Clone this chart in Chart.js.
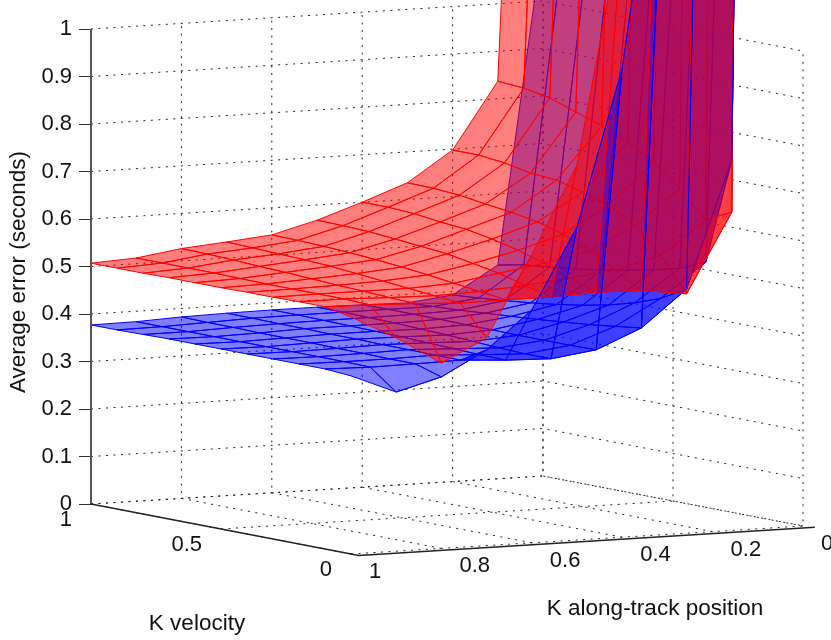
<!DOCTYPE html>
<html>
<head>
<meta charset="utf-8">
<title>Average error surfaces</title>
<script src="https://cdn.jsdelivr.net/npm/chart.js@4"></script>
<style>
  html, body { margin: 0; padding: 0; background: #fff; }
  canvas { display: block; }
</style>
</head>
<body>
<canvas id="errorChart" width="831" height="640"></canvas>
<script>
// grid of the two surfaces
const kPos = [1, 0.9, 0.8, 0.7, 0.6, 0.5, 0.4, 0.3, 0.2, 0.1, 0];
const kVel = [1, 0.9, 0.8, 0.7, 0.6, 0.5, 0.4, 0.3, 0.2, 0.1, 0];

// one row per kPos, one value per kVel
const redError = [
  [0.507, 0.507, 0.507, 0.508, 0.508, 0.508, 0.509, 0.509, 0.51, 0.51, 0.499],
  [0.512, 0.512, 0.512, 0.512, 0.511, 0.51, 0.51, 0.51, 0.51, 0.508, 0.449],
  [0.526, 0.525, 0.523, 0.52, 0.518, 0.515, 0.512, 0.51, 0.507, 0.505, 0.39],
  [0.534, 0.532, 0.53, 0.528, 0.525, 0.52, 0.515, 0.51, 0.505, 0.5, 0.437],
  [0.543, 0.542, 0.54, 0.537, 0.533, 0.528, 0.522, 0.515, 0.508, 0.501, 0.606],
  [0.568, 0.567, 0.565, 0.56, 0.555, 0.55, 0.54, 0.53, 0.515, 0.501, 0.79],
  [0.6, 0.6, 0.597, 0.59, 0.585, 0.575, 0.562, 0.545, 0.525, 0.505, 1.29],
  [0.635, 0.634, 0.63, 0.622, 0.615, 0.605, 0.59, 0.565, 0.535, 0.503, 2.2],
  [0.698, 0.698, 0.692, 0.681, 0.677, 0.662, 0.645, 0.614, 0.561, 0.49, 4],
  [0.837, 0.833, 0.823, 0.804, 0.785, 0.762, 0.73, 0.684, 0.629, 0.656, 8],
  [3, 3.2, 3.5, 4, 4.5, 5.5, 7, 9, 12, 16, 25]
];
const blueError = [
  [0.377, 0.377, 0.378, 0.379, 0.379, 0.379, 0.379, 0.379, 0.379, 0.379, 0.375],
  [0.378, 0.378, 0.378, 0.378, 0.378, 0.378, 0.378, 0.378, 0.378, 0.377, 0.335],
  [0.382, 0.381, 0.381, 0.38, 0.38, 0.38, 0.379, 0.379, 0.378, 0.378, 0.361],
  [0.384, 0.384, 0.383, 0.383, 0.382, 0.382, 0.381, 0.381, 0.38, 0.38, 0.412],
  [0.385, 0.385, 0.384, 0.383, 0.382, 0.381, 0.379, 0.377, 0.375, 0.374, 0.49],
  [0.385, 0.385, 0.384, 0.383, 0.381, 0.379, 0.376, 0.373, 0.371, 0.371, 0.659],
  [0.384, 0.385, 0.385, 0.385, 0.384, 0.384, 0.383, 0.383, 0.383, 0.384, 0.987],
  [0.382, 0.385, 0.388, 0.392, 0.396, 0.4, 0.405, 0.41, 0.417, 0.424, 1.64],
  [0.393, 0.397, 0.402, 0.408, 0.415, 0.424, 0.435, 0.45, 0.47, 0.5, 3.1],
  [0.45, 0.461, 0.467, 0.473, 0.482, 0.492, 0.503, 0.517, 0.54, 0.766, 5],
  [1.13, 1.22, 1.25, 1.35, 1.5, 1.7, 2, 2.6, 3.5, 8, 15]
];

// tick labels
const zTicks = [0, 0.1, 0.2, 0.3, 0.4, 0.5, 0.6, 0.7, 0.8, 0.9, 1];
const posTicks = [1, 0.8, 0.6, 0.4, 0.2, 0];
const velTicks = [1, 0.5, 0];
const zTitle = 'Average error (seconds)';
const posTitle = 'K along-track position';
const velTitle = 'K velocity';

const FONT = '"Liberation Sans", Arial, sans-serif';

// 3D view -> chart values. x scale is screen px right of the z axis,
// y scale is in z units with the floor shear added in
function project(pos, vel, z) {
  return {
    x: (1 - pos) * 452 + (1 - vel) * 260,
    y: z + (28 * (1 - pos) - 50 * (1 - vel)) / 475
  };
}

function pathSet(points, color, width, dash) {
  return {
    data: points,
    showLine: true,
    fill: false,
    borderColor: color,
    borderWidth: width,
    borderDash: dash || [],
    pointRadius: 0,
    tension: 0,
    clip: false
  };
}

function gridSets() {
  const dots = [2, 5.5];
  const color = '#222';
  const sets = [];
  zTicks.forEach(z => {
    sets.push(pathSet([project(1, 1, z), project(0, 1, z), project(0, 0, z)], color, 1, dots));
  });
  posTicks.forEach(p => {
    sets.push(pathSet([project(p, 0, 0), project(p, 1, 0), project(p, 1, 1)], color, 1, dots));
  });
  velTicks.forEach(v => {
    sets.push(pathSet([project(1, v, 0), project(0, v, 0), project(0, v, 1)], color, 1, dots));
  });
  return sets;
}

function cellSets(values, fillColor, lineColor, rank) {
  const cells = [];
  for (let i = 0; i < kPos.length - 1; i++) {
    for (let j = 0; j < kVel.length - 1; j++) {
      const ring = [[i, j], [i + 1, j], [i + 1, j + 1], [i, j + 1], [i, j]];
      cells.push({
        // back corner first, blue just before red at the same depth
        depth: 260 * (kPos[i] + kPos[i + 1]) / 2 + 452 * (1 - (kVel[j] + kVel[j + 1]) / 2) + rank,
        set: {
          data: ring.map(c => project(kPos[c[0]], kVel[c[1]], values[c[0]][c[1]])),
          showLine: true,
          fill: 'shape',
          backgroundColor: fillColor,
          borderColor: lineColor,
          borderWidth: 1,
          pointRadius: 0,
          tension: 0
        }
      });
    }
  }
  return cells;
}

// the front fold of the blue surface shows as solid lines over the red one
function blueFoldSets() {
  const last = kVel.length - 1;
  const sets = [];
  const edge = [];
  for (let i = 1; i < kPos.length; i++) {
    edge.push(project(kPos[i], kVel[last], blueError[i][last]));
    if (i >= 5) {
      sets.push(pathSet([
        project(kPos[i], kVel[last - 1], blueError[i][last - 1]),
        project(kPos[i], kVel[last], blueError[i][last])
      ], '#0000ff', 1));
    }
  }
  sets.push(pathSet(edge, '#0000ff', 1));
  return sets;
}

function buildDatasets() {
  const cells = cellSets(blueError, 'rgba(0,0,255,0.5)', '#0000ff', 0)
    .concat(cellSets(redError, 'rgba(255,0,0,0.5)', '#ff0000', 1));
  cells.sort((a, b) => a.depth - b.depth);

  const painted = gridSets().concat(cells.map(c => c.set)).concat(blueFoldSets());

  // box edges
  painted.push(pathSet([project(1, 1, 0), project(1, 1, 1)], '#555', 2));
  painted.push(pathSet([project(1, 1, 0), project(1, -0.03, 0), project(-0.009, -0.03, 0)], '#222', 1.5));

  // chart.js paints the first dataset last
  return painted.reverse();
}

const textPlugin = {
  id: 'floorText',
  afterDraw(chart) {
    const ctx = chart.ctx;
    const sx = chart.scales.x;
    const sy = chart.scales.y;
    const at = p => ({ x: sx.getPixelForValue(p.x), y: sy.getPixelForValue(p.y) });
    ctx.save();
    ctx.fillStyle = '#111';
    ctx.textBaseline = 'middle';
    ctx.font = '22px ' + FONT;
    ctx.textAlign = 'right';
    velTicks.forEach(v => {
      const p = at(project(1, v, 0));
      ctx.fillText(String(v), p.x - 19, p.y + 16);
    });
    ctx.textAlign = 'left';
    posTicks.forEach(k => {
      const p = at(project(k, 0, 0));
      ctx.fillText(String(k), p.x + 18, p.y + 18);
    });
    ctx.textAlign = 'center';
    ctx.font = '22.5px ' + FONT;
    ctx.fillText(velTitle, 197, 624);
    ctx.fillText(posTitle, 655, 609);
    ctx.translate(19, 272);
    ctx.rotate(-Math.PI / 2);
    ctx.fillText(zTitle, 0, 0);
    ctx.restore();
  }
};

new Chart(document.getElementById('errorChart').getContext('2d'), {
  type: 'scatter',
  data: { datasets: buildDatasets() },
  plugins: [textPlugin],
  options: {
    responsive: false,
    animation: false,
    layout: { padding: 0 },
    plugins: { legend: { display: false }, tooltip: { enabled: false } },
    scales: {
      x: { display: false, min: 0, max: 740 },
      y: {
        min: (504 - 640) / 475,
        max: 504 / 475,
        afterFit: scale => {
          scale.width = 91;
          scale.paddingTop = 0;
          scale.paddingBottom = 0;
        },
        afterBuildTicks: scale => { scale.ticks = zTicks.map(v => ({ value: v })); },
        border: { display: false },
        grid: { drawOnChartArea: false, tickLength: 12, tickColor: '#333', tickWidth: 1 },
        ticks: {
          color: '#111',
          padding: 7,
          autoSkip: false,
          font: { family: FONT, size: 22 },
          callback: v => String(v)
        }
      }
    }
  }
});
</script>
</body>
</html>
